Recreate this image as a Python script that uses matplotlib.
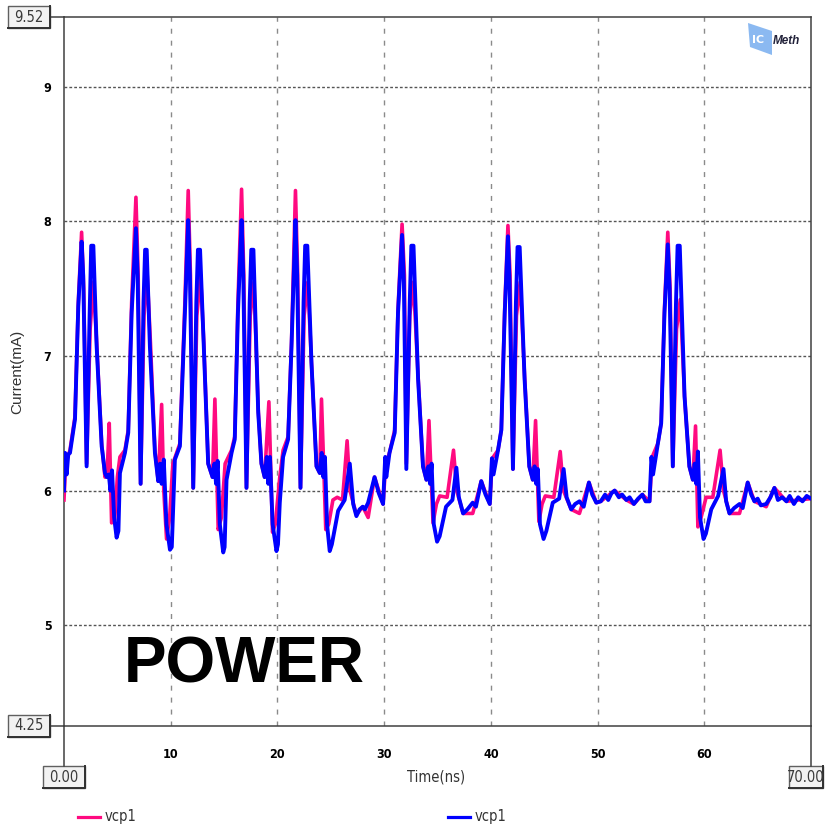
import numpy as np
import matplotlib.pyplot as plt
from matplotlib.lines import Line2D
from matplotlib.patches import Rectangle, Polygon

# current waveforms: (time ns, current mA)
blue_pts = [
    (0.0, 6.0), (0.1, 6.28), (0.25, 6.12), (0.4, 6.27), (0.56, 6.28), (1.03, 6.53), (1.34, 7.37),
    (1.65, 7.85), (1.8, 7.6), (2.12, 6.18), (2.4, 7.3), (2.55, 7.82), (2.75, 7.82), (3.06, 7.07),
    (3.53, 6.33), (3.84, 6.13), (4.0, 6.1), (4.2, 6.12), (4.35, 6.0), (4.5, 6.15), (4.7, 5.8),
    (4.93, 5.65), (5.1, 5.7), (5.24, 6.13), (5.71, 6.28), (6.02, 6.43), (6.34, 7.32), (6.74, 7.95),
    (6.9, 7.6), (7.18, 6.05), (7.45, 7.4), (7.6, 7.79), (7.75, 7.79), (8.05, 7.07), (8.52, 6.28),
    (8.83, 6.07), (9.0, 6.2), (9.15, 6.05), (9.35, 6.23), (9.6, 5.75), (9.93, 5.56), (10.1, 5.58),
    (10.39, 6.23), (10.86, 6.33), (11.33, 7.32), (11.64, 8.01), (11.8, 7.6), (12.11, 6.02),
    (12.4, 7.4), (12.55, 7.79), (12.75, 7.79), (13.1, 7.07), (13.51, 6.2), (13.92, 6.1),
    (14.1, 6.2), (14.25, 6.05), (14.4, 6.22), (14.6, 5.75), (14.92, 5.54), (15.05, 5.58),
    (15.23, 6.08), (15.7, 6.28), (16.0, 6.38), (16.3, 7.32), (16.64, 8.01), (16.8, 7.6),
    (17.1, 6.02), (17.4, 7.4), (17.55, 7.79), (17.75, 7.79), (18.2, 6.58), (18.5, 6.2),
    (18.8, 6.1), (19.0, 6.25), (19.15, 6.05), (19.3, 6.25), (19.55, 5.75), (19.91, 5.55),
    (20.05, 5.6), (20.22, 5.91), (20.53, 6.25), (21.0, 6.38), (21.32, 7.07), (21.69, 8.01),
    (21.85, 7.6), (22.16, 6.02), (22.45, 7.4), (22.6, 7.82), (22.8, 7.82), (23.19, 6.95),
    (23.66, 6.18), (23.97, 6.13), (24.15, 6.28), (24.3, 6.1), (24.45, 6.25), (24.65, 5.75),
    (24.9, 5.55), (25.1, 5.6), (25.69, 5.85), (26.3, 5.93), (26.78, 6.2), (27.1, 5.9),
    (27.4, 5.81), (27.7, 5.86), (28.0, 5.88), (28.2, 5.86), (28.5, 5.91), (29.1, 6.1),
    (29.5, 5.98), (29.9, 5.9), (30.1, 6.25), (30.2, 6.1), (30.5, 6.28), (30.99, 6.43),
    (31.3, 7.32), (31.68, 7.9), (31.85, 7.55), (32.08, 6.16), (32.4, 7.4), (32.55, 7.82),
    (32.75, 7.82), (33.18, 6.83), (33.64, 6.18), (33.96, 6.08), (34.15, 6.18), (34.3, 6.05),
    (34.45, 6.2), (34.65, 5.75), (34.96, 5.62), (35.2, 5.66), (35.8, 5.88), (36.4, 5.93),
    (36.77, 6.17), (37.0, 5.95), (37.4, 5.83), (37.8, 5.86), (38.3, 5.91), (38.6, 5.88),
    (39.1, 6.07), (39.5, 5.97), (39.9, 5.9), (40.1, 6.24), (40.25, 6.12), (40.67, 6.3),
    (40.98, 6.45), (41.3, 7.32), (41.6, 7.89), (41.75, 7.55), (42.07, 6.16), (42.35, 7.4),
    (42.5, 7.81), (42.7, 7.81), (43.16, 6.83), (43.6, 6.18), (43.93, 6.08), (44.1, 6.18),
    (44.25, 6.05), (44.4, 6.16), (44.6, 5.75), (44.94, 5.64), (45.2, 5.7), (45.8, 5.91),
    (46.4, 5.94), (46.82, 6.16), (47.1, 5.95), (47.53, 5.86), (47.9, 5.9), (48.3, 5.92),
    (48.7, 5.88), (49.19, 6.06), (49.5, 5.97), (49.88, 5.91), (50.3, 5.92), (50.7, 5.97),
    (51.0, 5.93), (51.3, 5.98), (51.6, 6.0), (52.0, 5.95), (52.3, 5.97), (52.7, 5.93),
    (53.0, 5.95), (53.4, 5.9), (53.8, 5.94), (54.2, 5.97), (54.5, 5.92), (54.87, 5.92),
    (55.05, 6.25), (55.2, 6.12), (55.65, 6.35), (55.96, 6.5), (56.27, 7.32), (56.58, 7.83),
    (56.75, 7.5), (57.05, 6.18), (57.35, 7.4), (57.5, 7.82), (57.7, 7.82), (58.15, 6.7),
    (58.6, 6.18), (58.93, 6.08), (59.1, 6.2), (59.25, 6.05), (59.4, 6.29), (59.6, 5.8),
    (59.93, 5.64), (60.15, 5.68), (60.65, 5.86), (61.3, 5.96), (61.8, 6.16), (62.05, 5.92),
    (62.36, 5.83), (62.8, 5.87), (63.3, 5.9), (63.6, 5.87), (64.07, 6.06), (64.4, 5.97),
    (64.7, 5.92), (65.0, 5.94), (65.3, 5.89), (65.8, 5.9), (66.2, 5.95), (66.57, 6.02),
    (66.9, 5.93), (67.3, 5.95), (67.7, 5.92), (68.0, 5.96), (68.4, 5.9), (68.8, 5.95),
    (69.2, 5.92), (69.6, 5.96), (70.0, 5.94),
]

pink_pts = [
    (0.0, 5.93), (0.15, 6.2), (0.56, 6.3), (1.03, 6.55), (1.34, 7.4), (1.65, 7.92), (1.85, 7.5),
    (2.12, 6.2), (2.45, 7.2), (2.75, 7.55), (3.06, 7.1), (3.53, 6.35), (3.84, 6.1), (4.05, 6.15),
    (4.24, 6.5), (4.46, 5.76), (4.75, 5.78), (5.0, 6.1), (5.24, 6.25), (5.71, 6.3), (6.02, 6.45),
    (6.34, 7.4), (6.74, 8.18), (6.95, 7.6), (7.18, 6.05), (7.5, 7.3), (7.8, 7.6), (8.1, 7.1),
    (8.52, 6.3), (8.83, 6.07), (9.15, 6.64), (9.35, 6.0), (9.61, 5.64), (9.9, 5.8), (10.2, 6.2),
    (10.86, 6.35), (11.33, 7.4), (11.64, 8.23), (11.85, 7.6), (12.11, 6.02), (12.45, 7.3),
    (12.8, 7.6), (13.1, 7.1), (13.51, 6.2), (13.92, 6.1), (14.14, 6.68), (14.45, 5.71),
    (14.75, 5.8), (15.1, 6.2), (15.7, 6.3), (16.0, 6.4), (16.3, 7.4), (16.64, 8.24),
    (16.85, 7.6), (17.1, 6.02), (17.45, 7.3), (17.8, 7.55), (18.2, 6.6), (18.5, 6.2),
    (18.8, 6.1), (19.2, 6.66), (19.54, 5.69), (19.8, 5.75), (20.22, 6.1), (20.53, 6.3),
    (21.0, 6.4), (21.32, 7.1), (21.69, 8.23), (21.9, 7.6), (22.16, 6.02), (22.5, 7.3),
    (22.85, 7.55), (23.19, 6.95), (23.66, 6.18), (23.97, 6.13), (24.13, 6.68), (24.53, 5.71),
    (24.8, 5.75), (25.2, 5.93), (25.6, 5.95), (26.1, 5.93), (26.53, 6.37), (26.8, 6.0),
    (27.4, 5.82), (28.0, 5.88), (28.5, 5.8), (29.1, 6.1), (29.9, 5.9), (30.15, 6.2),
    (30.5, 6.28), (30.99, 6.45), (31.3, 7.35), (31.68, 7.98), (31.9, 7.6), (32.08, 6.2),
    (32.4, 7.3), (32.75, 7.55), (33.18, 6.85), (33.64, 6.18), (33.96, 6.08), (34.2, 6.52),
    (34.58, 5.76), (34.9, 5.9), (35.2, 5.96), (35.9, 5.95), (36.5, 6.3), (36.8, 6.0),
    (37.4, 5.83), (38.3, 5.83), (39.1, 6.07), (39.9, 5.9), (40.14, 6.24), (40.67, 6.3),
    (40.98, 6.45), (41.3, 7.35), (41.6, 7.97), (41.8, 7.6), (42.07, 6.16), (42.4, 7.3),
    (42.75, 7.55), (43.16, 6.85), (43.6, 6.18), (43.93, 6.08), (44.19, 6.52), (44.5, 5.77),
    (44.8, 5.9), (45.1, 5.96), (45.9, 5.95), (46.5, 6.29), (46.8, 6.0), (47.53, 5.86),
    (48.3, 5.83), (49.19, 6.06), (49.88, 5.91), (50.3, 5.92), (51.6, 6.0), (52.7, 5.93),
    (53.4, 5.9), (54.2, 5.97), (54.87, 5.92), (55.12, 6.25), (55.65, 6.35), (55.96, 6.5),
    (56.27, 7.35), (56.58, 7.92), (56.8, 7.5), (57.05, 6.18), (57.4, 7.2), (57.75, 7.42),
    (58.15, 6.7), (58.6, 6.18), (58.93, 6.08), (59.18, 6.48), (59.4, 5.73), (59.7, 5.8),
    (60.17, 5.95), (60.8, 5.95), (61.48, 6.3), (61.8, 6.0), (62.36, 5.83), (63.3, 5.83),
    (64.07, 6.06), (64.7, 5.92), (65.8, 5.88), (66.57, 6.02), (67.7, 5.92), (70.0, 5.94),
]

x_ticks = [10, 20, 30, 40, 50, 60]
y_ticks = [5, 6, 7, 8, 9]
x_min, x_max = 0.0, 70.0
y_min, y_max = 4.25, 9.52

blue_t, blue_i = np.array(blue_pts).T
pink_t, pink_i = np.array(pink_pts).T

W, H = 825, 826
fig = plt.figure(figsize=(W / 100, H / 100), dpi=100)
fig.patch.set_facecolor("white")

# pixel -> figure fraction helpers
fx = lambda px: px / W
fy = lambda py: 1 - py / H

ax = fig.add_axes([fx(64), fy(726), fx(811) - fx(64), fy(17) - fy(726)])
ax.set_xlim(x_min, x_max)
ax.set_ylim(y_min, y_max)

pink = "#ff0a80"
blue = "#0000ff"
ax.plot(pink_t, pink_i, color=pink, lw=2.6, zorder=3)
ax.plot(blue_t, blue_i, color=blue, lw=2.8, zorder=4)

for xv in x_ticks:
    ax.axvline(xv, color="#8a8a8a", lw=1.0, dashes=(3.6, 5.0), zorder=1)
for yv in y_ticks:
    ax.axhline(yv, color="#555555", lw=1.0, dashes=(2.0, 1.5), zorder=1)

cond = ["DejaVu Sans", "Liberation Sans"]
tick_font = dict(family=cond, stretch="condensed", weight="bold", size=9)
ax.set_xticks(x_ticks)
ax.set_xticklabels([str(v) for v in x_ticks], **tick_font)
ax.set_yticks(y_ticks)
ax.set_yticklabels([str(v) for v in y_ticks], **tick_font)
ax.tick_params(length=0)
ax.tick_params(axis="x", pad=16)
ax.tick_params(axis="y", pad=9)

for s in ax.spines.values():
    s.set_color("#404040")
    s.set_linewidth(1.1)

fig.text(fx(436), fy(777), "Time(ns)", ha="center", va="center",
         family=cond, stretch="condensed", size=10.5, color="#333333")
fig.text(fx(17), fy(372), "Current(mA)", ha="center", va="center", rotation=90,
         family=["Liberation Sans", "DejaVu Sans"], size=11, color="#333333")

ax.text(0.08, 0.085, "POWER", transform=ax.transAxes, ha="left", va="center",
        family=["Liberation Sans", "DejaVu Sans"], weight="bold", size=46, color="black",
        zorder=5)

# spine extensions out to the value boxes
ext = dict(color="#404040", lw=1.1, transform=fig.transFigure)
fig.add_artist(Line2D([fx(50), fx(64)], [fy(17), fy(17)], **ext))
fig.add_artist(Line2D([fx(50), fx(64)], [fy(726), fy(726)], **ext))
fig.add_artist(Line2D([fx(64), fx(64)], [fy(726), fy(766)], **ext))
fig.add_artist(Line2D([fx(811), fx(811)], [fy(726), fy(766)], **ext))


def value_box(x0, y0, x1, y1, label):
    fig.add_artist(Rectangle((fx(x0), fy(y1)), fx(x1) - fx(x0), fy(y0) - fy(y1),
                             transform=fig.transFigure, facecolor="#f2f2f2",
                             edgecolor="#606060", lw=1.0))
    # darker bottom/right edge
    fig.add_artist(Line2D([fx(x0), fx(x1), fx(x1)], [fy(y1), fy(y1), fy(y0)],
                          color="#303030", lw=1.4, transform=fig.transFigure))
    fig.text(fx((x0 + x1) / 2), fy((y0 + y1) / 2), label, ha="center", va="center",
             family=cond, stretch="condensed", size=10.5, color="#3a3a3a")


value_box(8, 6, 50, 28, f"{y_max:.2f}")
value_box(8, 715, 50, 737, f"{y_min:.2f}")
value_box(43, 766, 85, 788, f"{x_min:.2f}")
value_box(789, 766, 823, 788, f"{x_max:.2f}")

# legend
fig.add_artist(Line2D([fx(78), fx(100)], [fy(817), fy(817)], color=pink, lw=2.3,
                      transform=fig.transFigure))
fig.text(fx(105), fy(816), "vcp1", ha="left", va="center", family=cond, stretch="condensed",
         size=10.5, color="#333333")
fig.add_artist(Line2D([fx(448), fx(470)], [fy(817), fy(817)], color=blue, lw=2.3,
                      transform=fig.transFigure))
fig.text(fx(475), fy(816), "vcp1", ha="left", va="center", family=cond, stretch="condensed",
         size=10.5, color="#333333")

# logo
fig.add_artist(Polygon([(fx(748), fy(23)), (fx(772), fy(31)), (fx(772), fy(55)), (fx(750), fy(47))],
                       closed=True, transform=fig.transFigure, facecolor="#7fb2f0",
                       edgecolor="none", alpha=0.9))
fig.text(fx(752), fy(40), "IC", ha="left", va="center", family=["DejaVu Sans"], weight="bold",
         size=8, color="white")
fig.text(fx(773), fy(41), "Meth", ha="left", va="center", family=["Liberation Sans", "DejaVu Sans"],
         weight="bold", style="italic", size=8.5, color="#22223a")

fig.savefig("out.png", dpi=100)
